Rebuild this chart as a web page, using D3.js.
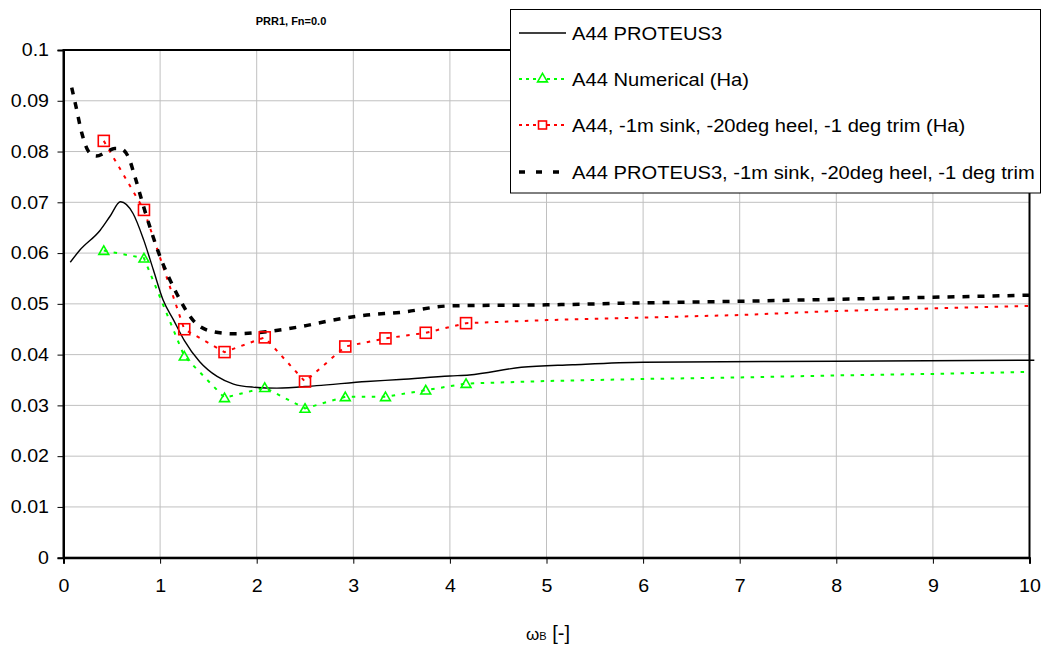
<!DOCTYPE html>
<html>
<head>
<meta charset="utf-8">
<script src="https://cdn.jsdelivr.net/npm/d3@7"></script>
<style>
  body { margin: 0; background: #fff; }
  svg { display: block; font-family: "Liberation Sans", Arial, sans-serif; }
</style>
</head>
<body>
<div id="chart"></div>
<script>
// A44 PROTEUS3 (solid)
const protX = [0.07, 0.17, 0.38, 0.48, 0.59, 0.72, 0.83, 0.93, 1.03, 1.14, 1.25, 1.41, 1.59, 1.76, 1.96, 2.21, 2.62, 3.14, 3.48, 4.0, 4.2, 4.74, 5.27, 6, 8, 10.05]
const protY = [0.0582, 0.0606, 0.0645, 0.0672, 0.0701, 0.0678, 0.0626, 0.0567, 0.0508, 0.0468, 0.0428, 0.0386, 0.0357, 0.0342, 0.0336, 0.0334, 0.0339, 0.0347, 0.0351, 0.0358, 0.0360, 0.0375, 0.0380, 0.0385, 0.0387, 0.0389]

// A44 Numerical (Ha) — first 10 points have markers
const numX = [0.417, 0.833, 1.25, 1.667, 2.083, 2.5, 2.917, 3.333, 3.75, 4.167, 5, 6, 7, 8, 9, 10]
const numY = [0.0605, 0.0590, 0.0397, 0.0315, 0.0335, 0.0294, 0.0317, 0.0317, 0.0330, 0.0343, 0.0348, 0.0352, 0.0355, 0.0359, 0.0362, 0.0366]

// A44, -1m sink, -20deg heel, -1 deg trim (Ha)
const sinkX = [0.417, 0.833, 1.25, 1.667, 2.083, 2.5, 2.917, 3.333, 3.75, 4.167, 5, 6, 7, 8, 9, 10]
const sinkY = [0.0821, 0.0685, 0.0450, 0.0405, 0.0434, 0.0347, 0.0416, 0.0432, 0.0443, 0.0462, 0.0468, 0.0473, 0.0478, 0.0486, 0.0491, 0.0496]
const markedCount = 10

// A44 PROTEUS3, -1m sink, -20deg heel, -1 deg trim (dashed)
const protSinkX = [0.085, 0.13, 0.19, 0.26, 0.34, 0.45, 0.53, 0.585, 0.67, 0.74, 0.83, 1.0, 1.17, 1.34, 1.55, 1.76, 2.1, 2.45, 2.79, 3.14, 3.48, 4.0, 5, 6, 7, 8, 9, 10]
const protSinkY = [0.0926, 0.0888, 0.0836, 0.0800, 0.0791, 0.0800, 0.0806, 0.0806, 0.0790, 0.0750, 0.0691, 0.0593, 0.0521, 0.0468, 0.0445, 0.0441, 0.0445, 0.0455, 0.0468, 0.0478, 0.0483, 0.0496, 0.0498, 0.0502, 0.0505, 0.0509, 0.0513, 0.0517]

const xTicks = d3.range(0, 11, 1)
const yTicks = d3.range(0, 11, 1).map(i => i / 100)
const legendLabels = [
  'A44 PROTEUS3',
  'A44 Numerical (Ha)',
  'A44, -1m sink, -20deg heel, -1 deg trim (Ha)',
  'A44 PROTEUS3, -1m sink, -20deg heel, -1 deg trim'
]

const width = 1048
const height = 646
const plotL = 63.5, plotR = 1029.5, plotT = 50, plotB = 557.7
const stretch = 'scale(1.09,1)' // the original text is a bit wider than Arial

const svg = d3.select('#chart')
  .append('svg')
  .attr('width', width)
  .attr('height', height)

svg.append('rect').attr('width', width).attr('height', height).attr('fill', '#fff')

const x = d3.scaleLinear().domain([0, 10]).range([plotL, plotR])
const y = d3.scaleLinear().domain([0, 0.1]).range([plotB, plotT])

// grid
svg.append('g')
  .selectAll('line')
  .data(yTicks)
  .join('line')
  .attr('x1', plotL).attr('x2', plotR)
  .attr('y1', d => y(d)).attr('y2', d => y(d))
  .attr('stroke', '#c0c0c0').attr('stroke-width', 1)
svg.append('g')
  .selectAll('line')
  .data(xTicks)
  .join('line')
  .attr('x1', d => x(d)).attr('x2', d => x(d))
  .attr('y1', plotT).attr('y2', plotB)
  .attr('stroke', '#c0c0c0').attr('stroke-width', 1)

// plot border
svg.append('rect')
  .attr('x', plotL).attr('y', plotT)
  .attr('width', plotR - plotL).attr('height', plotB - plotT)
  .attr('fill', 'none').attr('stroke', '#000').attr('stroke-width', 2)

// axes
const yAxis = svg.append('g')
  .attr('transform', `translate(${plotL},0)`)
  .call(d3.axisLeft(y).tickValues(yTicks).tickSize(6).tickPadding(8)
    .tickFormat(d => String(+d.toFixed(2))))
const xAxis = svg.append('g')
  .attr('transform', `translate(0,${plotB})`)
  .call(d3.axisBottom(x).tickValues(xTicks).tickSize(6).tickPadding(16)
    .tickFormat(d => String(d)))
;[yAxis, xAxis].forEach(a => {
  a.select('.domain').attr('stroke', '#000').attr('stroke-width', 2)
  a.selectAll('.tick line').attr('stroke', '#000')
  a.selectAll('.tick text').attr('fill', '#000')
    .style('font-size', '18px').style('font-family', '"Liberation Sans", Arial, sans-serif')
})
yAxis.selectAll('.tick text').attr('x', 0).attr('transform', 'translate(-14.5,0) ' + stretch)
xAxis.selectAll('.tick text').attr('transform', stretch)

// series
const line = d3.line().x(d => x(d[0])).y(d => y(d[1]))
const smooth = d3.line().x(d => x(d[0])).y(d => y(d[1])).curve(d3.curveMonotoneX)

const protData = d3.zip(protX, protY)
const numData = d3.zip(numX, numY)
const sinkData = d3.zip(sinkX, sinkY)
const protSinkData = d3.zip(protSinkX, protSinkY)

svg.append('path').datum(numData)
  .attr('d', line).attr('fill', 'none')
  .attr('stroke', '#00ff00').attr('stroke-width', 2).attr('stroke-dasharray', '3.5,6.5')
svg.append('path').datum(sinkData)
  .attr('d', line).attr('fill', 'none')
  .attr('stroke', '#ff0000').attr('stroke-width', 2).attr('stroke-dasharray', '3.5,6.5')
svg.append('path').datum(protData)
  .attr('d', smooth).attr('fill', 'none')
  .attr('stroke', '#000').attr('stroke-width', 1.4)
svg.append('path').datum(protSinkData)
  .attr('d', smooth).attr('fill', 'none')
  .attr('stroke', '#000').attr('stroke-width', 3.5).attr('stroke-dasharray', '7,8')

const tri = d3.symbol().type(d3.symbolTriangle).size(42)
const drawTriangles = (g, data) => g.selectAll('path')
  .data(data).join('path')
  .attr('d', tri)
  .attr('transform', d => `translate(${x(d[0])},${y(d[1]) + 1})`)
  .attr('fill', 'none').attr('stroke', '#00ff00').attr('stroke-width', 1.6)
const drawSquares = (g, data) => g.selectAll('rect')
  .data(data).join('rect')
  .attr('x', d => x(d[0]) - 5.5).attr('y', d => y(d[1]) - 5.5)
  .attr('width', 11).attr('height', 11)
  .attr('fill', 'none').attr('stroke', '#ff0000').attr('stroke-width', 1.6)

svg.append('g').call(drawTriangles, numData.slice(0, markedCount))
svg.append('g').call(drawSquares, sinkData.slice(0, markedCount))

// title
svg.append('text')
  .attr('x', 291).attr('y', 25)
  .attr('text-anchor', 'middle')
  .style('font-size', '11px').style('font-weight', 'bold')
  .text('PRR1, Fn=0.0')

// x label
const xl = svg.append('text')
  .attr('x', 548).attr('y', 640)
  .attr('text-anchor', 'middle')
  .style('font-size', '20px')
xl.append('tspan').text('ω').style('font-size', '17px')
xl.append('tspan').text('B').style('font-size', '11px')
xl.append('tspan').text(' [-]')

// legend
const lg = svg.append('g')
lg.append('rect')
  .attr('x', 510.5).attr('y', 9.5).attr('width', 530).attr('height', 183.5)
  .attr('fill', '#fff').attr('stroke', '#000').attr('stroke-width', 1)
const rowY = [33, 79, 125, 172]
const lx1 = 519, lx2 = 566, lmid = 542.5
lg.append('line').attr('x1', lx1).attr('x2', lx2).attr('y1', rowY[0]).attr('y2', rowY[0])
  .attr('stroke', '#000').attr('stroke-width', 1.4)
lg.append('line').attr('x1', lx1).attr('x2', lx2).attr('y1', rowY[1]).attr('y2', rowY[1])
  .attr('stroke', '#00ff00').attr('stroke-width', 2).attr('stroke-dasharray', '3,4')
lg.append('path').attr('d', tri).attr('transform', `translate(${lmid},${rowY[1]})`)
  .attr('fill', '#fff').attr('stroke', '#00ff00').attr('stroke-width', 1.6)
lg.append('line').attr('x1', lx1).attr('x2', lx2).attr('y1', rowY[2]).attr('y2', rowY[2])
  .attr('stroke', '#ff0000').attr('stroke-width', 2).attr('stroke-dasharray', '3,4')
lg.append('rect').attr('x', lmid - 4).attr('y', rowY[2] - 4).attr('width', 8).attr('height', 8)
  .attr('fill', '#fff').attr('stroke', '#ff0000').attr('stroke-width', 1.6)
lg.append('line').attr('x1', lx1).attr('x2', lx2).attr('y1', rowY[3]).attr('y2', rowY[3])
  .attr('stroke', '#000').attr('stroke-width', 3.5).attr('stroke-dasharray', '6,11')
lg.selectAll('text')
  .data(legendLabels)
  .join('text')
  .attr('transform', (d, i) => `translate(572,${rowY[i] + 6.5}) ${stretch}`)
  .style('font-size', '18.5px')
  .text(d => d)
</script>
</body>
</html>
